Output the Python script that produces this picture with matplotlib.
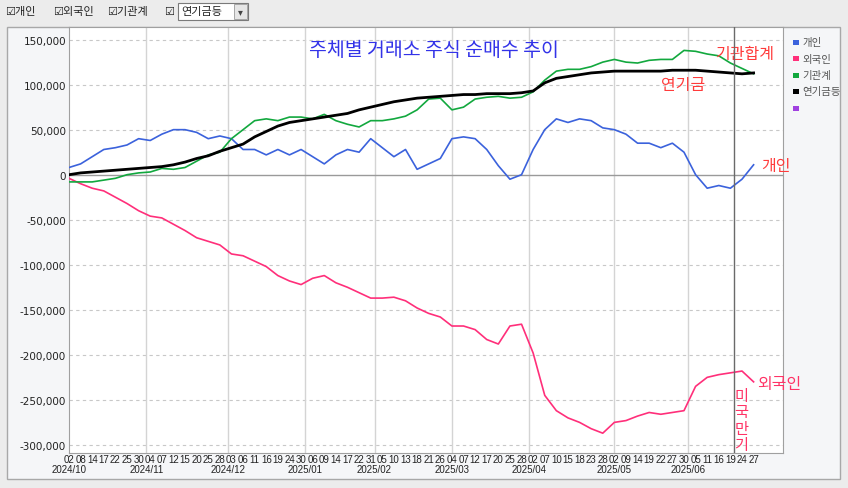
import numpy as np
import pandas as pd
import matplotlib.pyplot as plt
from matplotlib.patches import Rectangle

plt.rcParams['font.family'] = ['DejaVu Sans', 'Noto Sans CJK KR']

# KRX trading days, 2024-10-02 .. 2025-06-27
holidays = ['2024-10-03', '2024-10-09', '2024-12-25', '2024-12-31', '2025-01-01',
            '2025-01-27', '2025-01-28', '2025-01-29', '2025-01-30', '2025-03-03',
            '2025-05-01', '2025-05-05', '2025-05-06', '2025-06-03', '2025-06-06']
days = pd.bdate_range('2024-10-02', '2025-06-27')
days = days[~days.isin(pd.to_datetime(holidays))]

# values every 3rd trading day (unit: 100M won)
individual = [8, 12, 20, 28, 30, 33, 40, 38, 45, 50, 50, 47, 40, 43, 40, 28, 28, 22, 28, 22,
              28, 20, 12, 22, 28, 25, 40, 30, 20, 28, 6, 12, 18, 40, 42, 40, 28, 10, -5, 0,
              28, 50, 62, 58, 62, 60, 52, 50, 45, 35, 35, 30, 35, 25, 0, -15, -12, -15, -5, 11]
foreign = [-4, -10, -15, -18, -25, -32, -40, -46, -48, -55, -62, -70, -74, -78, -88, -90, -96, -102, -112, -118,
           -122, -115, -112, -120, -125, -131, -137, -137, -136, -140, -148, -154, -158, -168, -168, -172, -183, -188, -168, -166,
           -198, -245, -262, -270, -275, -282, -287, -275, -273, -268, -264, -266, -264, -262, -235, -225, -222, -220, -218, -230]
institution = [-8, -8, -8, -6, -4, 0, 2, 3, 7, 6, 8, 15, 22, 25, 40, 50, 60, 62, 60, 64,
               64, 62, 67, 60, 56, 53, 60, 60, 62, 65, 72, 84, 85, 72, 75, 84, 86, 87, 85, 86,
               92, 105, 115, 117, 117, 120, 125, 128, 125, 124, 127, 128, 128, 138, 137, 134, 132, 124, 118, 112]
pension = [0, 2, 3, 4, 5, 6, 7, 8, 9, 11, 14, 18, 21, 26, 30, 34, 42, 48, 54, 58,
           60, 62, 64, 66, 68, 72, 75, 78, 81, 83, 85, 86, 87, 88, 89, 89, 90, 90, 90, 91,
           93, 102, 107, 109, 111, 113, 114, 115, 115, 115, 115, 115, 116, 116, 116, 115, 114, 113, 112, 113]

series = [('개인', individual, '#3b62dc', 1.2),
          ('외국인', foreign, '#ff2f7a', 1.2),
          ('기관계', institution, '#12a83e', 1.2),
          ('연기금등', pension, '#000000', 2.0)]

x = np.arange(len(days))[::3]
tick_labels = days[::3].strftime('%d')
month_start = [i for i in range(len(days)) if i == 0 or days[i].month != days[i - 1].month]
month_labels = [days[i].strftime('%Y/%m') for i in month_start]
expiry = list(days).index(pd.Timestamp('2025-06-20'))

W, H = 848, 489
fig = plt.figure(figsize=(W / 100, H / 100), dpi=100)
fig.patch.set_facecolor('#ececec')

# panel behind chart
fig.patches.append(Rectangle((7 / W, 1 - 480 / H), 833 / W, 452 / H, transform=fig.transFigure,
                             facecolor='#f5f6f8', edgecolor='#a8a8a8', lw=1, zorder=-5))

# top toolbar
for lbl, px in [('☑개인', 5), ('☑외국인', 53), ('☑기관계', 107), ('☑', 164)]:
    fig.text(px / W, 1 - 12 / H, lbl, fontsize=8, color='#222222', va='center')
fig.patches.append(Rectangle((178 / W, 1 - 21 / H), 70 / W, 17 / H, transform=fig.transFigure,
                             facecolor='white', edgecolor='#7a7a7a', lw=0.8))
fig.patches.append(Rectangle((234 / W, 1 - 20 / H), 13 / W, 15 / H, transform=fig.transFigure,
                             facecolor='#e6e6e6', edgecolor='#9a9a9a', lw=0.6))
fig.text(181 / W, 1 - 12 / H, '연기금등', fontsize=8, color='#222222', va='center')
fig.text(240.5 / W, 1 - 12.5 / H, '▾', fontsize=7, color='#444444', va='center', ha='center')

ax = fig.add_axes([69 / W, 1 - 454 / H, (783 - 69) / W, (454 - 28) / H], zorder=2)
ax.set_facecolor('white')

for name, vals, col, lw in series:
    ax.plot(x, np.array(vals) * 1000, color=col, lw=lw, label=name, zorder=3)

ax.set_xlim(0, 184.6)
ax.set_ylim(-309000, 164000)
ax.set_yticks(np.arange(-300000, 150001, 50000))
ax.set_yticklabels([f'{v:,}' for v in range(-300000, 150001, 50000)],
                   fontsize=7.5, family='DejaVu Sans', color='#222222')
ax.set_xticks(x)
ax.set_xticklabels(tick_labels, fontsize=7, family='Liberation Sans', color='#222222')
ax.tick_params(length=0, pad=2)
ax.tick_params(axis='x', pad=1)

for v in np.arange(-300000, 150001, 50000):
    if v != 0:
        ax.axhline(v, color='#c8c8c8', lw=0.8, ls=(0, (3, 3)), zorder=1)
ax.axhline(0, color='#9a9a9a', lw=1, zorder=2)
for i in month_start[1:]:
    ax.axvline(i, color='#d4d4d4', lw=1, zorder=1)
ax.axvline(expiry, color='#6a6a6a', lw=1, zorder=4)

for i, lbl in zip(month_start, month_labels):
    ax.text(i, -0.026, lbl, transform=ax.get_xaxis_transform(), fontsize=7,
            family='Liberation Sans', ha='center', va='top', color='#222222')

for s in ax.spines.values():
    s.set_color('#a0a0a0')

# annotations
ax.text(0.511, 0.972, '주체별 거래소 주식 순매수 추이', transform=ax.transAxes, fontsize=14,
        color='#3333e8', ha='center', va='top', family='Noto Sans CJK KR')
red = '#ff3b3b'
ax.text(167, 135000, '기관합계', fontsize=11.5, color=red, family='Noto Sans CJK KR', va='center')
ax.text(153, 100000, '연기금', fontsize=11.5, color=red, family='Noto Sans CJK KR', va='center')
ax.text(179, 10000, '개인', fontsize=11.5, color=red, family='Noto Sans CJK KR', va='center')
ax.text(178, -232000, '외국인', fontsize=11.5, color='#ff3366', family='Noto Sans CJK KR', va='center')
ax.text(173.8, -309000, '미\n국\n만\n기', fontsize=11, color='#ff3366', family='Noto Sans CJK KR',
        ha='center', va='bottom', linespacing=0.95)

# legend at right
legend_rows = [('개인', '#3b62dc'), ('외국인', '#ff2f7a'), ('기관계', '#12a83e'),
               ('연기금등', '#000000'), ('', '#a040e0')]
for k, (name, col) in enumerate(legend_rows):
    yy = 43 + 16.5 * k
    fig.patches.append(Rectangle((793 / W, 1 - (yy + 2.5) / H), 6 / W, 5 / H,
                                 transform=fig.transFigure, facecolor=col, edgecolor='none'))
    fig.text(802 / W, 1 - yy / H, name, fontsize=7.5, color='#555555', va='center')

fig.savefig('out.png', dpi=100)
